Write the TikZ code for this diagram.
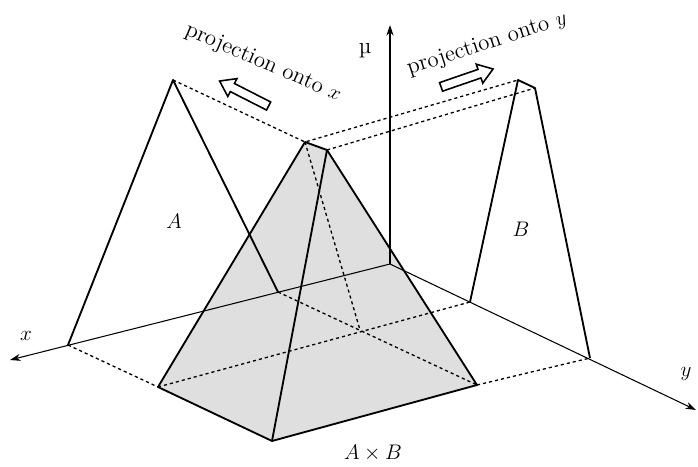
\documentclass[tikz,border=0pt]{standalone}
\usetikzlibrary{arrows.meta,shapes.arrows}

\begin{document}
\begin{tikzpicture}[x=0.02cm, y=-0.02cm, edge/.style={line width=1.05pt, line join=round}, proj/.style={line width=0.75pt, dash pattern=on 1.8pt off 1.7pt}, axis/.style={line width=0.6pt, -{Stealth[length=6pt, width=4pt]}}, lbl/.style={font=\fontsize{13}{15}\selectfont, inner sep=1pt}, blockarrow/.style={draw, line width=0.9pt, single arrow, single arrow head extend=0.11cm, single arrow tip angle=70, minimum height=1.1cm, minimum width=0pt, inner sep=0.075cm}]
\useasboundingbox (0,0) rectangle (698,467);
\coordinate (O) at (390,264);
\coordinate (xend) at (10,360);
\coordinate (yend) at (696,410);
\coordinate (muend) at (390,25);
\coordinate (Al) at (68,345);
\coordinate (Aa) at (173,80);
\coordinate (Ar) at (278,292);
\coordinate (Bl) at (470,302);
\coordinate (Bt1) at (518,80);
\coordinate (Bt2) at (535,88);
\coordinate (Br) at (590,358);
\coordinate (T1) at (305,142);
\coordinate (T2) at (327,150);
\coordinate (L) at (158,387);
\coordinate (F) at (272,441);
\coordinate (R) at (477,385);
\coordinate (K) at (360,330);
\fill[gray!25] (L) -- (F) -- (R) -- (T2) -- (T1) -- cycle;
\draw[proj] (Aa) -- (T1) -- (Bt1);
\draw[proj] (T2) -- (Bt2);
\draw[proj] (T1) -- (K);
\draw[proj] (L) -- (Bl);
\draw[proj] (Ar) -- (R);
\draw[proj] (Al) -- (L);
\draw[proj] (R) -- (Br);
\draw[axis] (O) -- (xend);
\draw[axis] (O) -- (yend);
\draw[axis] (O) -- (muend);
\draw[edge] (Al) -- (Aa) -- (Ar);
\draw[edge] (Bl) -- (Bt1) -- (Bt2) -- (Br);
\draw[edge] (T1) -- (L) -- (F) -- (R) -- (T2) -- cycle;
\draw[edge] (T2) -- (F);
\node[blockarrow, rotate=153] (arrx) at (247,95) {};
\node[blockarrow, rotate=19] (arry) at (464,79) {};
\node[lbl, rotate=-23.5] (tx) at (263,63) {projection onto $x$};
\node[lbl, rotate=18] (ty) at (487,44) {projection onto $y$};
\node[lbl] (la) at (174,221) {$A$};
\node[lbl] (lb) at (521,229) {$B$};
\node[lbl] (lab) at (373,453) {$A\times B$};
\node[lbl] (lx) at (26,336) {$x$};
\node[lbl] (ly) at (686,374) {$y$};
\node[lbl] (lmu) at (365,51) {\textmu};
\end{tikzpicture}
\end{document}
